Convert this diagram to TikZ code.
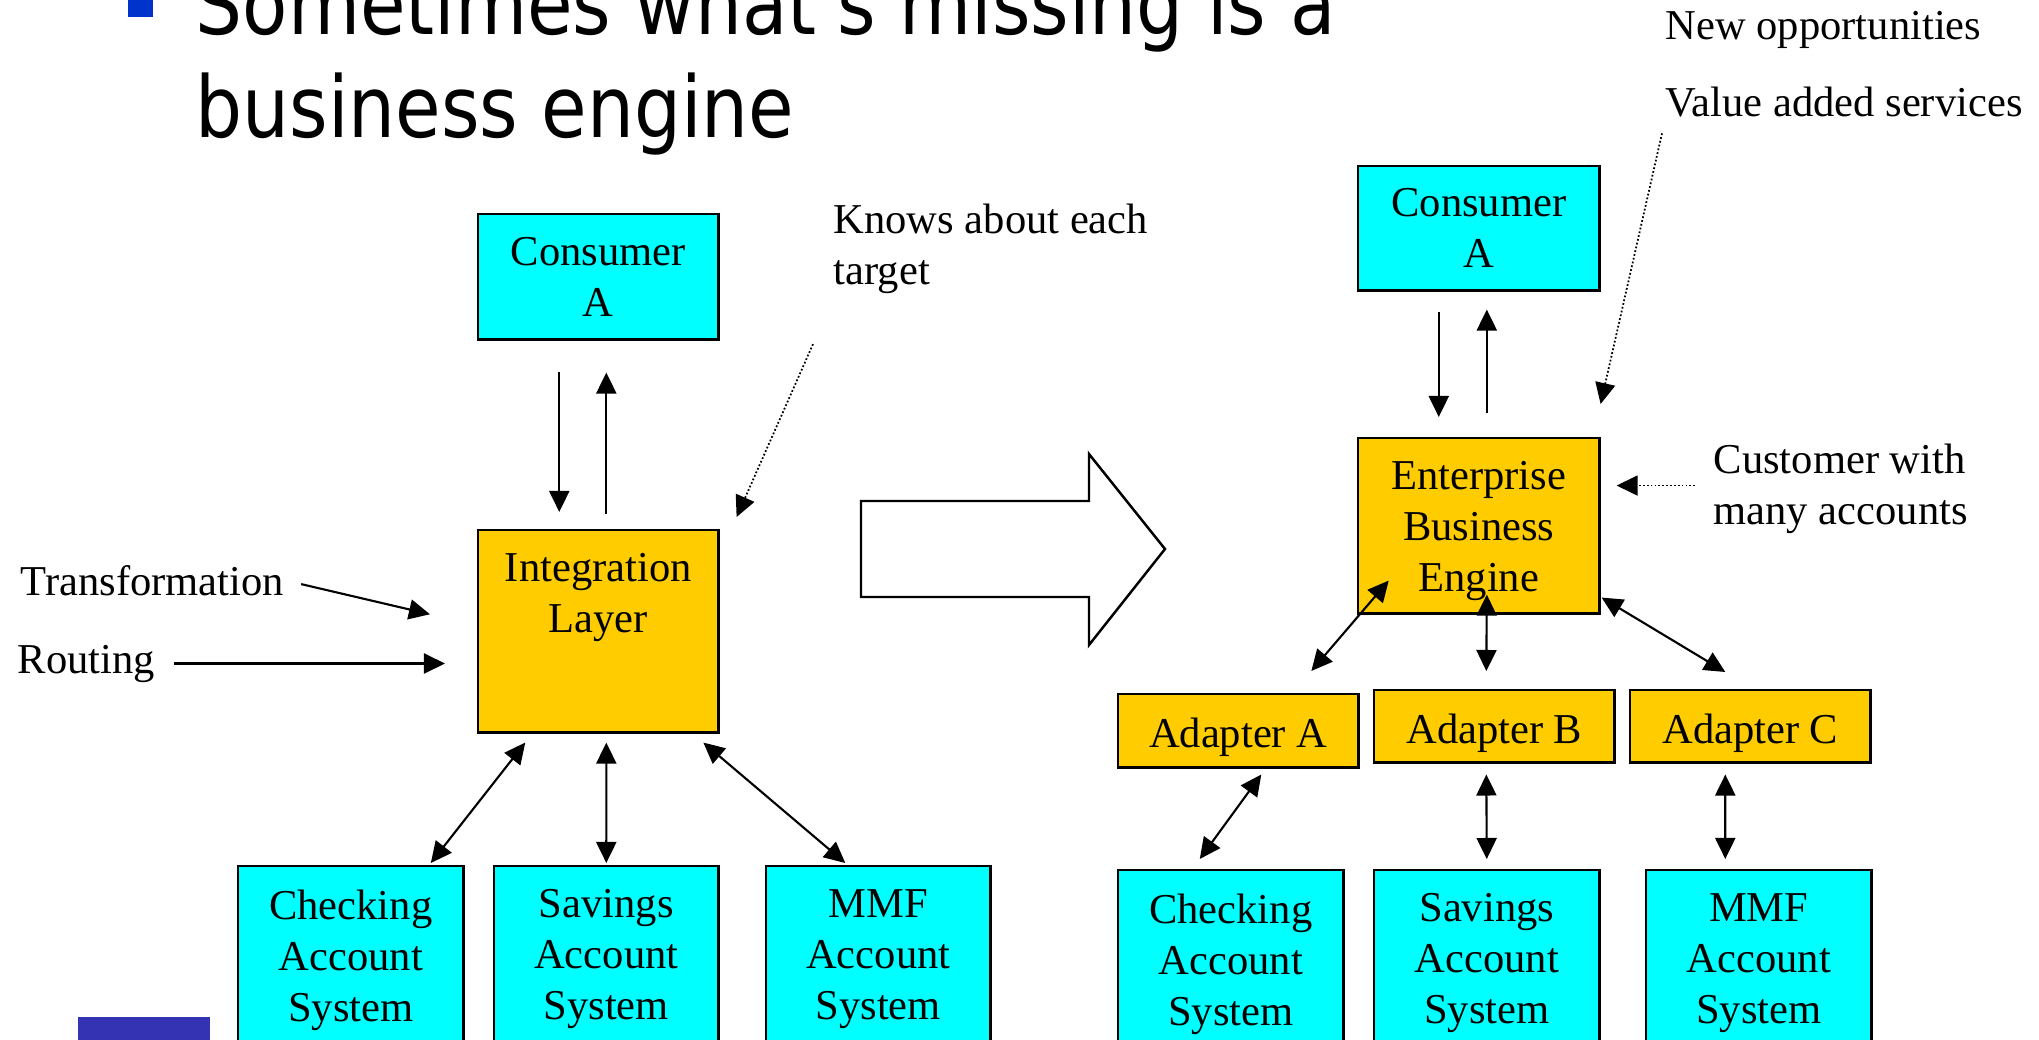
\documentclass[tikz,border=0pt]{standalone}
\usepackage{fontspec}
\setmainfont{Liberation Serif}
\newfontfamily\headfamily[FakeStretch=0.87]{DejaVu Sans}
\usetikzlibrary{positioning, arrows.meta}
\definecolor{boxcyan}{RGB}{0,255,255}
\definecolor{boxgold}{RGB}{255,204,0}
\definecolor{bulletblue}{RGB}{0,51,204}
\definecolor{barblue}{RGB}{51,51,179}
\newcommand{\boxfont}{\fontsize{12.1pt}{14.5pt}\selectfont}
\newcommand{\headfont}{\headfamily\fontsize{24.2pt}{29.3pt}\selectfont}

\begin{document}
\begin{tikzpicture}[x=0.01cm, y=-0.01cm,
        every node/.style = {font=\boxfont},
        sysbox/.style = {draw, fill=boxcyan, line width=0.7pt, anchor=north west, align=center, inner sep=0pt, minimum width=2.4cm},
        corebox/.style = {sysbox, fill=boxgold},
        adapter/.style = {corebox, text height=0.34cm, text depth=0cm},
        note/.style = {align=left, inner sep=0pt},
        link/.style = {-{Triangle[length=0.21cm, width=0.2cm]}, line width=0.6pt},
        twoway/.style = {{Triangle[length=0.21cm, width=0.2cm]}-{Triangle[length=0.21cm, width=0.2cm]}, line width=0.6pt},
        hint/.style = {link, line width=0.5pt, dash pattern=on 0.5pt off 0.6pt}]
        \useasboundingbox (0,0) rectangle (2039,1040);
        \clip (0,0) rectangle (2039,1040);
        %
        \fill[bulletblue] (128,-10) rectangle (153,17);
        \node[note, font=\headfont, anchor=base west] (title1) at (195,35) {Sometimes what's missing is a};
        \node[note, font=\headfont, anchor=base west] (title2) at (195,138) {business engine};
        \fill[barblue] (78,1017) rectangle (210,1060);
        %
        \node[sysbox, minimum height=1.25cm] (consL) at (477,213) {Consumer\\A};
        \node[corebox, minimum height=2.02cm] (integ) at (477,529) {};
        \node[note, align=center] (integtext) [below=0.24cm of integ.north] {Integration\\Layer};
        \node[sysbox, minimum width=2.25cm, minimum height=2cm] (chkL) at (237,865) {};
        \node[sysbox, minimum width=2.24cm, minimum height=2cm] (savL) at (493,865) {};
        \node[sysbox, minimum width=2.24cm, minimum height=2cm] (mmfL) at (765,865) {};
        \node[note, align=center] (chkLtext) [below=0.24cm of chkL.north] {Checking\\Account\\System};
        \node[note, align=center] (savLtext) [below=0.24cm of savL.north] {Savings\\Account\\System};
        \node[note, align=center] (mmfLtext) [below=0.24cm of mmfL.north] {MMF\\Account\\System};
        %
        \node[note, anchor=north west] (knows) at (833,203) {Knows about each\\target};
        \node[note, anchor=base west] (trans) at (20,595) {Transformation};
        \node[note, anchor=base west] (routing) at (17,673) {Routing};
        %
        \draw[link] ([xshift=-0.39cm, yshift=-0.31cm]consL.south) -- ([xshift=-0.39cm, yshift=0.17cm]integ.north);
        \draw[link] ([xshift=0.08cm, yshift=0.15cm]integ.north) -- ([xshift=0.08cm, yshift=-0.32cm]consL.south);
        \draw[twoway] ([xshift=-0.73cm, yshift=-0.09cm]integ.south) -- ([xshift=0.8cm, yshift=0.02cm]chkL.north);
        \draw[twoway] ([xshift=0.08cm, yshift=-0.09cm]integ.south) -- ([yshift=0.02cm]savL.north);
        \draw[twoway] ([xshift=1.05cm, yshift=-0.09cm]integ.south) -- ([xshift=-0.33cm, yshift=0.02cm]mmfL.north);
        \draw[link, shorten <=0.17cm] (trans.east) -- ([xshift=-0.47cm, yshift=0.17cm]integ.west);
        \draw[link, shorten <=0.18cm, shorten >=0.32cm] (routing.east) -- (routing.east -| integ.west);
        \draw[hint] ([xshift=-0.2cm, yshift=-0.5cm]knows.south west) -- ([xshift=0.17cm, yshift=0.12cm]integ.north east);
        %
        \draw[line width=0.7pt] (861,501) -- (1089,501) -- (1089,454) -- (1165,549) -- (1089,645) -- (1089,597) -- (861,597) -- cycle;
        %
        \node[sysbox, minimum width=2.41cm, minimum height=1.24cm] (consR) at (1357,165) {Consumer\\A};
        \node[corebox, minimum width=2.41cm, minimum height=1.75cm] (engine) at (1357,437) {};
        \node[note, align=center] (enginetext) [below=0.24cm of engine.north] {Enterprise\\Business\\Engine};
        \node[adapter, minimum height=0.73cm] (adA) at (1117,693) {Adapter A};
        \node[adapter, minimum height=0.72cm] (adB) at (1373,689) {Adapter B};
        \node[adapter, minimum height=0.72cm] (adC) at (1629,689) {Adapter C};
        \node[sysbox, minimum width=2.25cm, minimum height=2cm] (chkR) at (1117,869) {};
        \node[sysbox, minimum width=2.25cm, minimum height=2cm] (savR) at (1373,869) {};
        \node[sysbox, minimum width=2.25cm, minimum height=2cm] (mmfR) at (1645,869) {};
        \node[note, align=center] (chkRtext) [below=0.24cm of chkR.north] {Checking\\Account\\System};
        \node[note, align=center] (savRtext) [below=0.24cm of savR.north] {Savings\\Account\\System};
        \node[note, align=center] (mmfRtext) [below=0.24cm of mmfR.north] {MMF\\Account\\System};
        %
        \node[note, anchor=base west] (newopp) at (1665,40) {New opportunities};
        \node[note, anchor=base west] (valueadd) at (1665,117) {Value added services};
        \node[note, anchor=north west] (cust) at (1713,443) {Customer with\\many accounts};
        \coordinate (custarr) at ([yshift=0.03cm]cust.west);
        %
        \draw[link] ([xshift=-0.4cm, yshift=-0.2cm]consR.south) -- ([xshift=-0.4cm, yshift=0.2cm]engine.north);
        \draw[link] ([xshift=0.08cm, yshift=0.24cm]engine.north) -- ([xshift=0.08cm, yshift=-0.18cm]consR.south);
        \draw[twoway] ([xshift=-0.9cm, yshift=0.34cm]engine.south) -- ([xshift=0.73cm, yshift=0.22cm]adA.north);
        \draw[twoway] ([xshift=0.08cm, yshift=0.2cm]engine.south) -- ([xshift=-0.08cm, yshift=0.18cm]adB.north);
        \draw[twoway] ([xshift=0.01cm, yshift=0.17cm]engine.south east) -- ([xshift=-0.25cm, yshift=0.17cm]adC.north);
        \draw[twoway] ([xshift=0.23cm, yshift=-0.06cm]adA.south) -- ([xshift=-0.31cm, yshift=0.1cm]chkR.north);
        \draw[twoway] ([xshift=-0.08cm, yshift=-0.11cm]adB.south) -- ([yshift=0.1cm]savR.north);
        \draw[twoway] ([xshift=-0.25cm, yshift=-0.11cm]adC.south) -- ([xshift=-0.335cm, yshift=0.1cm]mmfR.north);
        \draw[hint] ([xshift=-0.03cm, yshift=-0.15cm]valueadd.south west) -- ([yshift=0.33cm]engine.north east);
        \draw[hint, shorten <=0.18cm, shorten >=0.16cm] (custarr) -- (custarr -| engine.east);
      \end{tikzpicture}
\end{document}
